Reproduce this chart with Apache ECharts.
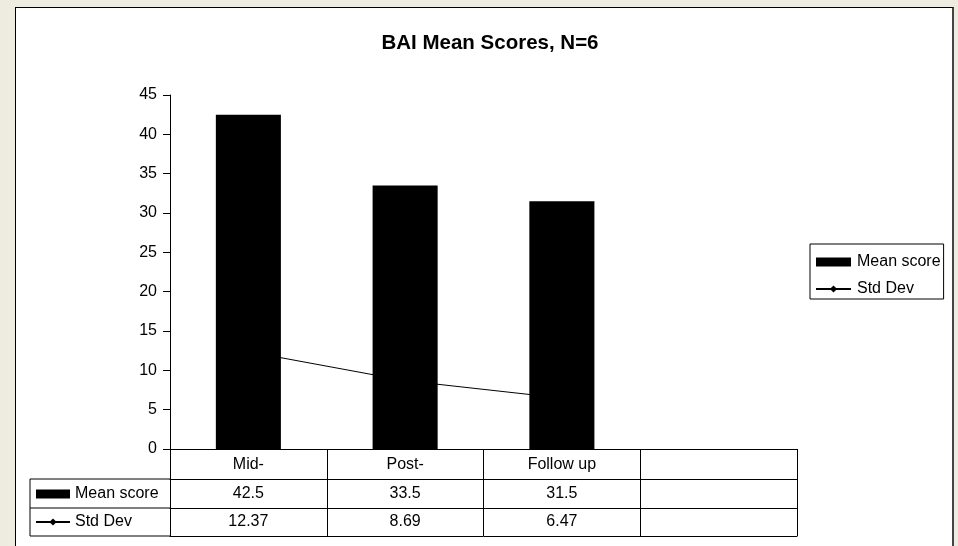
<!DOCTYPE html>
<html>
<head>
<meta charset="utf-8">
<script src="https://cdn.jsdelivr.net/npm/echarts@6/dist/echarts.min.js"></script>
<style>
  html, body { margin: 0; padding: 0; background: #EEECE1; }
  #panel {
    position: absolute; left: 15px; top: 7px; width: 936px; height: 600px;
    background: #fff; border-left: 1px solid #000; border-top: 1px solid #000;
    border-right: 2px solid #444;
  }
  #chart { position: absolute; left: 0; top: 0; width: 958px; height: 546px; }
</style>
</head>
<body>
<div id="panel"></div>
<div id="chart"></div>
<script>
// Categories (the fourth column of the data table is left empty)
const categories = ['Mid-', 'Post-', 'Follow up', ''];
const meanScore = [42.5, 33.5, 31.5];
const stdDev = [12.37, 8.69, 6.47];
const yTicks = { min: 0, max: 45, interval: 5 };

const FONT = 'Liberation Sans, Arial, sans-serif';
const txt = { color: '#000', fontFamily: FONT, fontSize: 16 };

// Table rows show the same values as text under each category
const meanRow = categories.map((c, i) => (i < meanScore.length ? String(meanScore[i]) : ''));
const stdRow = categories.map((c, i) => (i < stdDev.length ? stdDev[i].toFixed(2) : ''));

const chart = echarts.init(document.getElementById('chart'), null, { renderer: 'canvas' });

const gridLeft = 170, gridTop = 95, gridRight = 161, gridBottom = 97;
const axisY = 546 - gridBottom;          // y of the category axis line
const tableBottom = axisY + 87;

function tableAxis(data, offset, margin, showLabel) {
  return {
    type: 'category',
    data: data,
    position: 'bottom',
    offset: offset,
    boundaryGap: true,
    axisLine: { show: true, lineStyle: { color: '#000', width: 1 } },
    axisTick: { show: false },
    axisLabel: Object.assign({ show: showLabel, margin: margin, interval: 0 }, txt),
    splitLine: { show: false }
  };
}

const option = {
  animation: false,
  backgroundColor: 'transparent',
  title: {
    text: 'BAI Mean Scores, N=6',
    left: 485, top: 28, textAlign: 'center',
    textStyle: { color: '#000', fontFamily: FONT, fontSize: 20.5, fontWeight: 'bold' }
  },
  grid: { left: gridLeft, top: gridTop, right: gridRight, bottom: gridBottom, containLabel: false },
  legend: [
    {
      orient: 'vertical',
      left: 810, top: 244,
      padding: [10, 3, 2, 5],
      borderColor: '#000', borderWidth: 1,
      itemWidth: 35, itemHeight: 9, itemGap: 11,
      textStyle: Object.assign({ lineHeight: 16, padding: [0, 0, 0, 1] }, txt),
      data: [{ name: 'Mean score', icon: 'rect' }, { name: 'Std Dev' }],
      selectedMode: false
    },
    {
      orient: 'vertical',
      left: 35, top: 486,
      padding: 0,
      itemWidth: 34, itemHeight: 9, itemGap: 12,
      textStyle: Object.assign({ lineHeight: 16 }, txt),
      data: [{ name: 'Mean score', icon: 'rect' }, { name: 'Std Dev' }],
      selectedMode: false
    }
  ],
  xAxis: [
    {
      type: 'category',
      data: categories,
      position: 'bottom',
      boundaryGap: true,
      axisLine: { show: true, lineStyle: { color: '#000', width: 1 } },
      axisTick: { show: true, alignWithLabel: false, interval: 0, length: 87, lineStyle: { color: '#000' } },
      axisLabel: Object.assign({ margin: 8, interval: 0 }, txt),
      splitLine: { show: false }
    },
    tableAxis(meanRow, 30, 7, true),
    tableAxis(stdRow, 59, 6, true),
    tableAxis(categories, 87, 6, false)
  ],
  yAxis: {
    type: 'value',
    min: yTicks.min, max: yTicks.max, interval: yTicks.interval,
    axisLine: { show: true, lineStyle: { color: '#000', width: 1 } },
    axisTick: { show: true, inside: false, length: 7, lineStyle: { color: '#000' } },
    axisLabel: Object.assign({ margin: 13 }, txt),
    splitLine: { show: false }
  },
  series: [
    {
      name: 'Mean score',
      type: 'bar',
      xAxisIndex: 0,
      data: meanScore,
      barWidth: '41.5%',
      itemStyle: { color: '#000' },
      z: 3
    },
    {
      name: 'Std Dev',
      type: 'line',
      xAxisIndex: 0,
      data: stdDev,
      symbol: 'diamond',
      symbolSize: 8,
      showSymbol: true,
      lineStyle: { color: '#000', width: 1 },
      itemStyle: { color: '#000' },
      z: 1
    }
  ],
  graphic: [
    // header column of the data table
    {
      type: 'polyline',
      shape: { points: [[gridLeft, axisY + 30], [30, axisY + 30], [30, tableBottom], [gridLeft, tableBottom]] },
      style: { stroke: '#000', lineWidth: 1, fill: null }
    },
    {
      type: 'line',
      shape: { x1: 30, y1: axisY + 59, x2: gridLeft, y2: axisY + 59 },
      style: { stroke: '#000', lineWidth: 1 }
    }
  ]
};

chart.setOption(option);
</script>
</body>
</html>
